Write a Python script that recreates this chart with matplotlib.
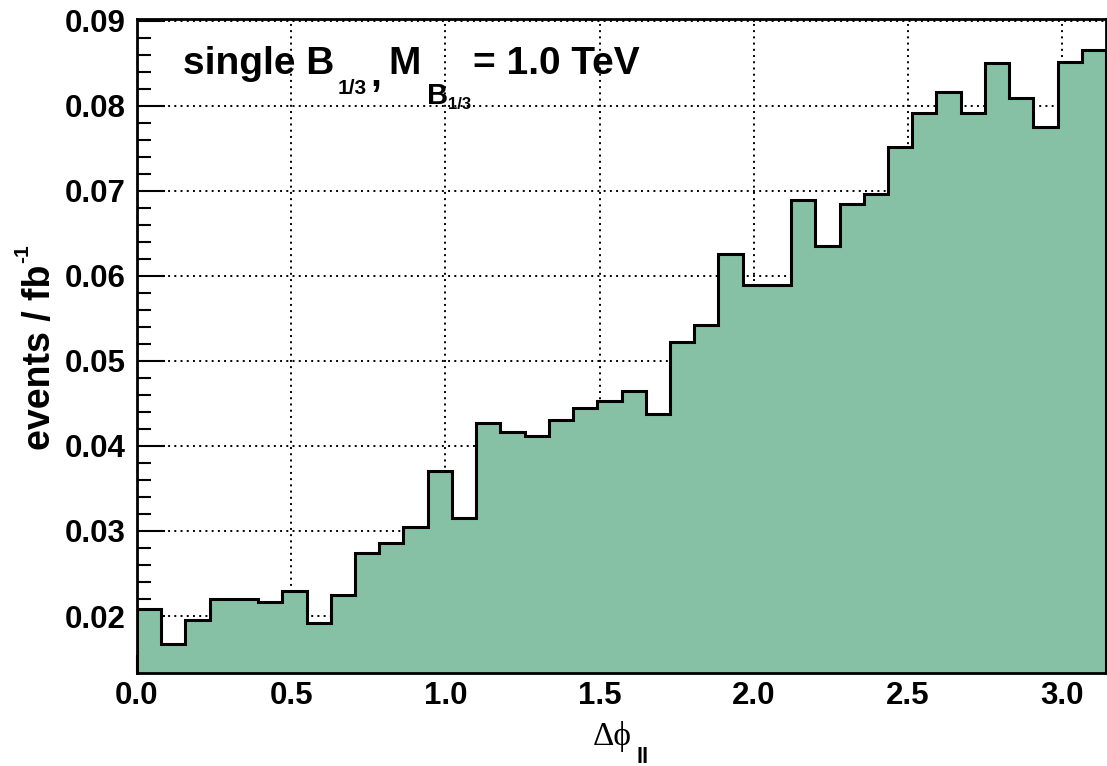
import numpy as np
import matplotlib
matplotlib.use("Agg")
import matplotlib.pyplot as plt
from matplotlib.ticker import MultipleLocator, FormatStrFormatter

# delta phi between the two leptons, 40 bins over [0, pi]
n_bins = 40
events = [0.0208, 0.0167, 0.0195, 0.0220, 0.0220, 0.0216, 0.0229, 0.0192,
          0.0225, 0.0274, 0.0286, 0.0305, 0.0371, 0.0315, 0.0427, 0.0416,
          0.0412, 0.0430, 0.0445, 0.0453, 0.0465, 0.0438, 0.0522, 0.0542,
          0.0626, 0.0589, 0.0589, 0.0689, 0.0635, 0.0684, 0.0696, 0.0752,
          0.0792, 0.0816, 0.0792, 0.0850, 0.0809, 0.0775, 0.0852, 0.0865]
edges = np.linspace(0, np.pi, n_bins + 1)

W, H = 1107, 766
fig = plt.figure(figsize=(W / 100, H / 100), dpi=100)
ax = fig.add_axes([137 / W, 1 - 673 / H, 969 / W, 654 / H])

sans = "Liberation Sans"
fill = "#86c1a5"

ymin, ymax = 0.0133, 0.0902
ax.stairs(events, edges, baseline=ymin, fill=True, color=fill, zorder=2)
ax.stairs(events, edges, baseline=ymin, color="black", lw=2.2, zorder=3)

ax.set_xlim(0, np.pi)
ax.set_ylim(ymin, ymax)

ax.xaxis.set_major_locator(MultipleLocator(0.5))
ax.xaxis.set_minor_locator(MultipleLocator(0.1))
ax.yaxis.set_major_locator(MultipleLocator(0.01))
ax.yaxis.set_minor_locator(MultipleLocator(0.002))
ax.xaxis.set_major_formatter(FormatStrFormatter("%.1f"))
ax.yaxis.set_major_formatter(FormatStrFormatter("%.2f"))

ax.tick_params(axis="both", which="both", direction="in", width=1.5,
               top=False, right=False)
ax.tick_params(axis="x", which="major", length=13, pad=6)
ax.tick_params(axis="x", which="minor", length=6.5)
ax.tick_params(axis="y", which="major", length=20, pad=8)
ax.tick_params(axis="y", which="minor", length=10)
for lab in ax.get_xticklabels() + ax.get_yticklabels():
    lab.set_fontfamily(sans)
    lab.set_fontweight("bold")
    lab.set_fontsize(22.5)

ax.grid(True, which="major", color="black", lw=1.4, linestyle=(0, (1, 2.2)), zorder=1)
ax.set_axisbelow(True)
for sp in ax.spines.values():
    sp.set_linewidth(2)
    sp.set_zorder(5)


def put(x, y, s, size, **kw):
    # place text at pixel position (x, baseline y) measured from top-left
    kw.setdefault("family", sans)
    kw.setdefault("weight", "bold")
    fig.text(x / W, 1 - y / H, s, fontsize=size, va="baseline", ha="left", **kw)


# label: single B_{1/3}, M_{B_{1/3}} = 1.0 TeV
put(183, 74, "single B", 28)
put(338, 94, "1/3", 15)
put(370, 86, ",", 28)
put(388, 74, "M", 28)
put(427, 104, "B", 21)
put(448, 109, "1/3", 12)
put(473, 74, "= 1.0 TeV", 28)

# y axis title
fig.text(50 / W, 1 - 450 / H, "events / fb", fontsize=27, family=sans, weight="bold",
         rotation=90, rotation_mode="anchor", ha="left", va="baseline")
fig.text(28 / W, 1 - 263 / H, "-1", fontsize=15, family=sans, weight="bold",
         rotation=90, rotation_mode="anchor", ha="left", va="baseline")

# x axis title
put(593, 745, "\u0394\u03d5", 24, family=["Liberation Serif", "DejaVu Serif"], weight="normal")
put(637, 763, "ll", 16)

fig.savefig("out.png", dpi=100)
